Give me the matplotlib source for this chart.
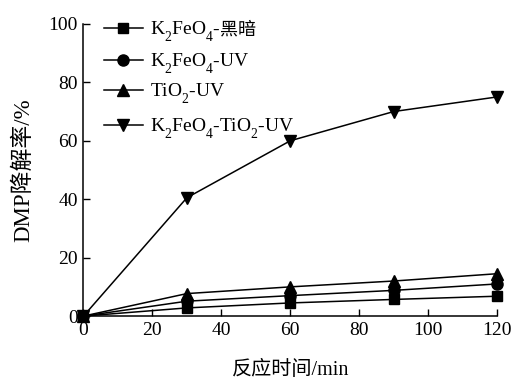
import matplotlib
matplotlib.use("Agg")
import matplotlib.pyplot as plt

plt.rcParams['font.family'] = ['Liberation Serif', 'Noto Sans CJK SC']
plt.rcParams['mathtext.fontset'] = 'custom'
plt.rcParams['mathtext.rm'] = 'Liberation Serif'
plt.rcParams['mathtext.it'] = 'Liberation Serif:italic'

# the original drops its subscripts lower than mathtext does
try:
    import matplotlib._mathtext as _mt
    _mt.FontConstantsBase.sub1 = 0.8
    _mt.FontConstantsBase.sub2 = 0.9
except Exception:
    pass

# data
time_min = [0, 30, 60, 90, 120]
k2feo4_dark = [0, 2.8, 4.5, 5.7, 6.8]
k2feo4_uv = [0, 5.1, 7.0, 8.8, 11.0]
tio2_uv = [0, 7.7, 10.0, 12.0, 14.5]
k2feo4_tio2_uv = [0, 40.5, 60.0, 70.0, 75.0]

series = [k2feo4_dark, k2feo4_uv, tio2_uv, k2feo4_tio2_uv]
markers = ['s', 'o', '^', 'v']
sizes = [7, 8, 8.5, 8.5]
labels = [r'K$_2$FeO$_4$-', r'K$_2$FeO$_4$-UV', r'TiO$_2$-UV', r'K$_2$FeO$_4$-TiO$_2$-UV']
label_suffix = ['黑暗', '', '', '']

xticks = [0, 20, 40, 60, 80, 100, 120]
yticks = [0, 20, 40, 60, 80, 100]

fig = plt.figure(figsize=(5.12, 3.79), dpi=100)
ax = fig.add_axes([0.163, 0.166, 0.808, 0.771])

for vals, m, ms in zip(series, markers, sizes):
    ax.plot(time_min, vals, color='black', lw=1.1, marker=m, ms=ms,
            mfc='black', mec='black', clip_on=False, zorder=3)

ax.set_xlim(0, 120)
ax.set_ylim(0, 100)
ax.set_xticks(xticks)
ax.set_yticks(yticks)
ax.spines['top'].set_visible(False)
ax.spines['right'].set_visible(False)
ax.tick_params(direction='in', length=5, width=1, labelsize=14, pad=4)
for s in ['left', 'bottom']:
    ax.spines[s].set_linewidth(1.1)

ax.set_xlabel('反应时间/min', fontsize=14.5, labelpad=16)
ax.set_ylabel('DMP降解率/%', fontsize=16.5, labelpad=10)

# legend drawn by hand, rows are not evenly spaced in the original
leg_y = [0.986, 0.877, 0.774, 0.654]
texts = []
for y, m, ms, lab in zip(leg_y, markers, sizes, labels):
    ax.plot([0.050, 0.144], [y, y], color='black', lw=1.1,
            transform=ax.transAxes, clip_on=False)
    ax.plot([0.096], [y], marker=m, ms=ms, color='black',
            transform=ax.transAxes, clip_on=False)
    t = ax.text(0.161, y - 0.024, lab, fontsize=14, va='baseline', ha='left',
                transform=ax.transAxes)
    texts.append(t)

fig.canvas.draw()
renderer = fig.canvas.get_renderer()
for t, suf in zip(texts, label_suffix):
    if not suf:
        continue
    bb = t.get_window_extent(renderer)
    x_ax = ax.transAxes.inverted().transform((bb.x1, bb.y0))[0]
    ax.text(x_ax, t.get_position()[1], suf, fontsize=13, va='baseline',
            ha='left', family='Noto Sans CJK SC', transform=ax.transAxes)

fig.savefig('out.png', dpi=100)
